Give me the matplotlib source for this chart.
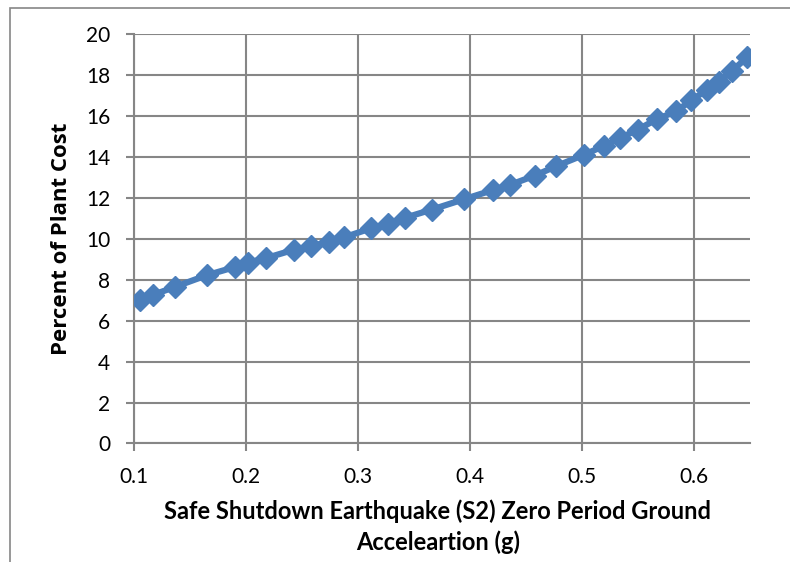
import matplotlib.pyplot as plt
from matplotlib.patches import Rectangle

# S2 zero period ground acceleration (g) vs percent of plant cost
accel = [0.105, 0.117, 0.137, 0.165, 0.190, 0.202, 0.218, 0.243, 0.258, 0.274,
         0.288, 0.312, 0.327, 0.342, 0.366, 0.395, 0.421, 0.436, 0.458, 0.477,
         0.502, 0.520, 0.534, 0.550, 0.567, 0.584, 0.598, 0.612, 0.623, 0.634,
         0.648]
cost = [6.99, 7.26, 7.66, 8.22, 8.62, 8.83, 9.06, 9.47, 9.64, 9.85,
        10.08, 10.52, 10.71, 11.03, 11.43, 11.94, 12.39, 12.64, 13.09, 13.55,
        14.11, 14.55, 14.92, 15.34, 15.85, 16.23, 16.77, 17.30, 17.69, 18.21,
        18.88]
xticks = [0.1, 0.2, 0.3, 0.4, 0.5, 0.6]
yticks = list(range(0, 21, 2))

grey = "#868686"
blue = "#4A7EBB"

fig = plt.figure(figsize=(7.9, 5.62), dpi=100)
ax = fig.add_axes([0.1696, 0.211, 0.949 - 0.1696, 0.939 - 0.211])

# outer frame (clipped at right/bottom like the source)
fig.patches.append(Rectangle((10 / 790, -0.1), 1.2, 1 - 8 / 562 + 0.1,
                             transform=fig.transFigure, fill=False,
                             edgecolor=grey, linewidth=1.2))

ax.plot(accel, cost, color=blue, linewidth=4.5, marker="D", markersize=11,
        markerfacecolor=blue, markeredgecolor=blue, zorder=3)

ax.set_xlim(0.1, 0.65)
ax.set_ylim(0, 20)
ax.set_xticks(xticks)
ax.set_yticks(yticks)
ax.set_xticklabels([f"{t:.1f}" for t in xticks])
ax.grid(True, color=grey, linewidth=1.5)
ax.set_axisbelow(True)

for side in ["top", "right"]:
    ax.spines[side].set_visible(False)
for side in ["left", "bottom"]:
    ax.spines[side].set_color(grey)
    ax.spines[side].set_linewidth(1.5)

ax.tick_params(axis="both", colors=grey, length=6, width=1.5, labelcolor="black",
               labelsize=15)
ax.tick_params(axis="x", pad=11)
ax.tick_params(axis="y", pad=11)
for lbl in ax.get_xticklabels() + ax.get_yticklabels():
    lbl.set_family("Lato")

ax.set_ylabel("Percent of Plant Cost", fontsize=16, fontweight="bold",
              family="Open Sans")
ax.yaxis.set_label_coords(-0.1, 0.5)
ax.set_xlabel("Safe Shutdown Earthquake (S2) Zero Period Ground\nAcceleartion (g)",
              fontsize=17, fontweight="bold", family="Lato", linespacing=1.35)
ax.xaxis.set_label_coords(0.4935, -0.138)

fig.savefig("out.png", dpi=100)
